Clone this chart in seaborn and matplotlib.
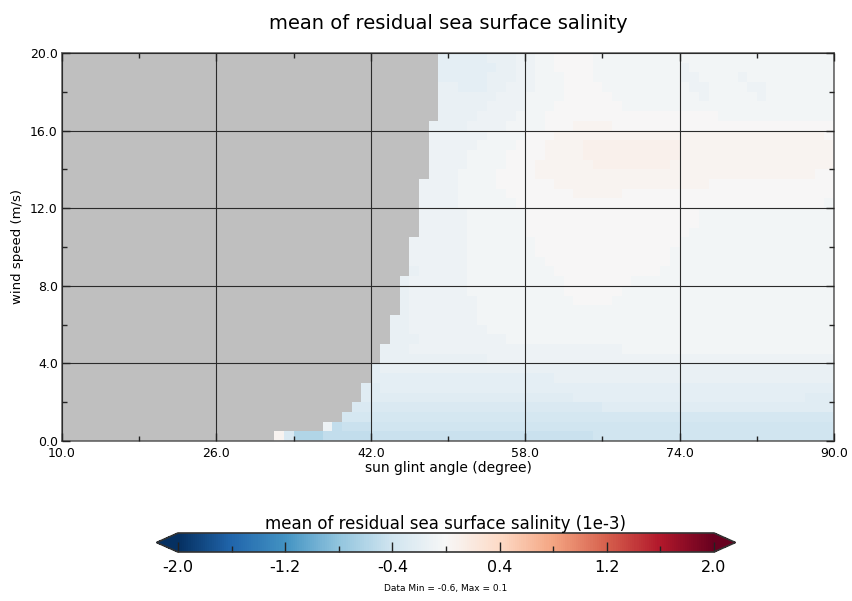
import numpy as np
import pandas as pd
import matplotlib
matplotlib.use("Agg")
import matplotlib.pyplot as plt
import seaborn as sns

# ---------------- data ----------------
title = "mean of residual sea surface salinity"
xlabel = "sun glint angle (degree)"
ylabel = "wind speed (m/s)"
cbar_label = "mean of residual sea surface salinity (1e-3)"
note = "Data Min = -0.6, Max = 0.1"

# bin lower edges
angles = list(range(10, 90))                 # 1-degree bins, 10..89
winds = [0.5 * k for k in range(40)]         # 0.5 m/s bins, 0..19.5

xticks = [10.0, 26.0, 42.0, 58.0, 74.0, 90.0]
yticks = [0.0, 4.0, 8.0, 12.0, 16.0, 20.0]
cbar_ticks = [-2.0, -1.2, -0.4, 0.4, 1.2, 2.0]
cbar_minor = [-1.6, -0.8, 0.0, 0.8, 1.6]
vmin, vmax = -2.0, 2.0

# value code of each cell ('.' = no data)
codes = {'.': np.nan, 'A': -0.6, 'B': -0.5, 'C': -0.45, 'D': -0.4, 'E': -0.35,
         'F': -0.3, 'G': -0.25, 'H': -0.2, 'I': -0.15, 'J': -0.1, 'K': -0.05,
         'L': 0.0, 'M': 0.05, 'N': 0.1}

# rows from top (19.5-20 m/s) to bottom (0-0.5 m/s); columns 10..89 degrees
rows_top_down = [
    ".......... .......... .......... .........H HHHHIIIJJK KLLLLKKKKK KKKKKKKKKK KKKKKKKKKK",
    ".......... .......... .......... .........H HHHHHIIJJK KLLLLKKKKK KKKKJKKKKK KKKKKKKKKK",
    ".......... .......... .......... .........H HHHHIIIJJK KKLLLKKKKK KKKKJJKKKK JKKKKKKKKK",
    ".......... .......... .......... .........I IHHHIIJJJK KKLLLLKKKK KKKKKJJKKK KJJKKKKKKK",
    ".......... .......... .......... .........I IIIIIJJJKK KKLLLLLKKK KKKKKKJKKK KKJKKKKKKK",
    ".......... .......... .......... .........I IIIIJJJJKK KLLLLLLLKK KKKKKKKKKK KKKKKKKKKK",
    ".......... .......... .......... .........I IIIJJJJKKK LLLLLLLLLL LLLLLLLLKK KKKKKKKKKK",
    ".......... .......... .......... ........II IIJJJJKKKK LLLMMMMLLL LLLLLLLLLL LLLLLLLLLL",
    ".......... .......... .......... ........JJ JJJJKKKKLL LMMMMMMMMM MMMMMMMMMM MMMMMMMMML",
    ".......... .......... .......... ........JJ JJJKKKKLLL MMMMNNNNNN NNNNMMMMMM MMMMMMMMMM",
    ".......... .......... .......... ........JJ JJKKKKLLLL MMMMNNNNNN NNNNMMMMMM MMMMMMMMMM",
    ".......... .......... .......... ........JJ JJKKKKLLLM MMMMMNNNNN NNNMMMMMMM MMMMMMMMMM",
    ".......... .......... .......... ........JJ JKKKKLLLLM MMMMMMMMMM MMMMMMMMMM MMMMMMMMLL",
    ".......... .......... .......... .......JJJ JKKKKLLLLL LMMMMMMMMM MMMMMMMLLL LLLLLLLLLL",
    ".......... .......... .......... .......JJJ JKKKKKLLLL LLLMMMMMLL LLLLLLLLLL LLLLLLLLLL",
    ".......... .......... .......... .......JJJ JKKKKKKLLL LLLLLLLLLL LLLLLLLLLL LLLLLLLLLK",
    ".......... .......... .......... .......JJJ JJKKKKKKLL LLLLLLLLLL LLLLLLKKKK KKKKKKKKKK",
    ".......... .......... .......... .......JJJ JJKKKKKKLL LLLLLLLLLL LLLLLLKKKK KKKKKKKKKK",
    ".......... .......... .......... .......JJJ JJKKKKKKLL LLLLLLLLLL LLLLLKKKKK KKKKKKKKKK",
    ".......... .......... .......... ......JJJJ JJKKKKKKKL LLLLLLLLLL LLLLKKKKKK KKKKKKKKKK",
    ".......... .......... .......... ......JJJJ JJKKKKKKKL LLLLLLLLLL LLLKKKKKKK KKKKKKKKKK",
    ".......... .......... .......... ......JJJJ JJKKKKKKKK LLLLLLLLLL LLLKKKKKKK KKKKKKKKKK",
    ".......... .......... .......... ......IJJJ JJKKKKKKKK KLLLLLLLLL LLKKKKKKKK KKKKKKKKKK",
    ".......... .......... .......... .....IJJJJ JJKKKKKKKK KKLLLLLLLK KKKKKKKKKK KKKKKKKKKK",
    ".......... .......... .......... .....IJJJJ JJKKKKKKKK KKLLLLLLKK KKKKKKKKKK KKKKKKKKKK",
    ".......... .......... .......... .....IJJJJ JJJKKKKKKK KKKLLLLKKK KKKKKKKKKK KKKKKKKKKK",
    ".......... .......... .......... .....IJJJJ JJJKKKKKKK KKKKKKKKKK KKKKKKKKKK KKKKKKKKKK",
    ".......... .......... .......... ....IIJJJJ JJJKKKKKKK KKKKKKKKKK KKKKKKKKKK KKKKKKKKKK",
    ".......... .......... .......... ....IIJJJJ JJJJKKKKKK KKKKKKKKKK KKKKKKKKKK KKKKKKKKKK",
    ".......... .......... .......... ....IIIJJJ JJJJJJKKKK KKKKKKKKKK KKKKKKKKKK KKKKKKKKKK",
    ".......... .......... .......... ...IIIJJJJ JJJJJJJJJJ JJJJJJJJKK KKKKKKKKKK KKKKKKKKKK",
    ".......... .......... .......... ...IIIIIII IIIIJJJJJJ JJJJJJJJJJ JJJJJJJJJJ JJJJJJJJJJ",
    ".......... .......... .......... ..HIIIIIII IIIIIIIIII IIIIIIIIII IIIIIIIIII IIIIIIIIII",
    ".......... .......... .......... ..HHHHHHHH HHHHHHHHHH HIIIIIIIII IIIIIIIIII IIIIIIIIII",
    ".......... .......... .......... .GGHHHHHHH HHHHHHHHHH HHHHHHHHHH HHHHHHHHHH HHHHHHHHHH",
    ".......... .......... .......... .GGGGGGGGG GGGGGGGGGG GGGHHHHHHH HHHHHHHHHH HHHHHHHGGG",
    ".......... .......... .......... FFFFFFFFFF FFFFFFFFFF FFFFFFGGGG GGGGGGGGGG GGGGGGGGGG",
    ".......... .......... .........E EEEEEEEEEE EEEEEEEEEE EEEEEEEEEE EEEEEEEEEE EEEEEEEEEE",
    ".......... .......... .......JBC CCDDDDDDDD DDDDDDDDDD DDDDDDDDDD DDDDDDDDDD DDDDDDDDDD",
    ".......... .......... ..MFAAABBB BBCCCCCCCC CCCCCCCCCC CCCCCDDDDD DDDDDDDDDD DDDDDDDDDD",
]

# ---------------- build table ----------------
grid = np.array([[codes[c] for c in r.replace(" ", "")] for r in rows_top_down[::-1]])
df = pd.DataFrame(grid, index=winds, columns=angles)

# ---------------- figure ----------------
fig = plt.figure(figsize=(8.52, 6.01), dpi=100)
ax = fig.add_axes([62 / 852, 1 - 441 / 601, (834 - 62) / 852, (441 - 53) / 601])
ax.set_facecolor("#bfbfbf")

sns.heatmap(df, ax=ax, cmap="RdBu_r", vmin=vmin, vmax=vmax, cbar=False,
            xticklabels=False, yticklabels=False)

nx, ny = len(angles), len(winds)
ax.set_xlim(0, nx)
ax.set_ylim(0, ny)
dx = angles[1] - angles[0]
dy = winds[1] - winds[0]
ax.set_xticks([(v - angles[0]) / dx for v in xticks])
ax.set_xticklabels([f"{v:.1f}" for v in xticks], fontsize=9)
ax.set_yticks([(v - winds[0]) / dy for v in yticks])
ax.set_yticklabels([f"{v:.1f}" for v in yticks], fontsize=9)
xm = [(a + b) / 2 for a, b in zip(xticks[:-1], xticks[1:])]
ym = [(a + b) / 2 for a, b in zip(yticks[:-1], yticks[1:])]
ax.set_xticks([(v - angles[0]) / dx for v in xm], minor=True)
ax.set_yticks([(v - winds[0]) / dy for v in ym], minor=True)
ax.tick_params(which="both", direction="in", top=True, right=True, color="#222222")
ax.tick_params(which="major", length=6, width=1)
ax.tick_params(which="minor", length=3.5, width=1)
ax.tick_params(axis="x", which="major", pad=4)
ax.tick_params(axis="y", which="major", pad=3)

for s in ax.spines.values():
    s.set_visible(True)
    s.set_color("#666666")
    s.set_linewidth(1.2)

ax.set_axisbelow(False)
ax.grid(True, which="major", color="#2b2b2b", linewidth=0.8)

ax.set_xlabel(xlabel, fontsize=10, labelpad=1)
ax.set_ylabel(ylabel, fontsize=9.5, labelpad=4)
ax.set_title(title, fontsize=14, pad=17)

# ---------------- colorbar ----------------
ext = 0.04
inner_l, inner_r = 178, 714
L = inner_r - inner_l
cax = fig.add_axes([(inner_l - ext * L) / 852, 1 - 552 / 601,
                    L * (1 + 2 * ext) / 852, 19 / 601])
mappable = ax.collections[0]
cb = fig.colorbar(mappable, cax=cax, orientation="horizontal", extend="both",
                  extendfrac=ext)
cb.set_ticks(cbar_ticks)
cb.set_ticklabels([f"{v:.1f}" for v in cbar_ticks])
cb.ax.set_xticks(cbar_minor, minor=True)
cb.ax.tick_params(which="both", direction="in", color="#222222", labelsize=11.5)
cb.ax.tick_params(which="major", length=7, width=1, pad=6)
cb.ax.tick_params(which="minor", length=4, width=1)
cb.outline.set_linewidth(1.2)
cb.outline.set_edgecolor("#333333")
cax.set_title(cbar_label, fontsize=12, pad=3)

fig.text(446 / 852, 1 - 589 / 601, note, fontsize=6.5, ha="center", va="center")

fig.savefig("out.png", dpi=100)
